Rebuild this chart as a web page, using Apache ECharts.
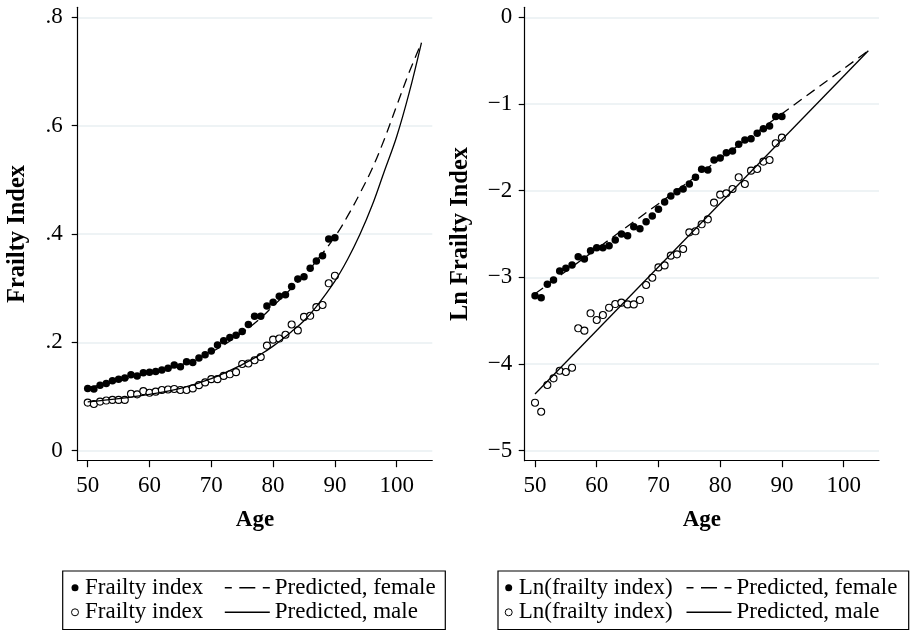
<!DOCTYPE html>
<html><head><meta charset="utf-8">
<script src="https://cdn.jsdelivr.net/npm/echarts@6/dist/echarts.min.js"></script>
<style>html,body{margin:0;padding:0;background:#fff}#c{width:913px;height:631px}</style>
</head><body><div id="c"></div>
<script>
// ---- data ----
const ages = [50,51,52,53,54,55,56,57,58,59,60,61,62,63,64,65,66,67,68,69,70,71,72,73,74,75,76,77,78,79,80,81,82,83,84,85,86,87,88,89,90];
const fiFemale = [0.115,0.114,0.121,0.124,0.129,0.132,0.134,0.140,0.138,0.144,0.145,0.146,0.149,0.152,0.158,0.155,0.164,0.163,0.171,0.177,0.184,0.195,0.203,0.209,0.213,0.220,0.233,0.248,0.248,0.267,0.274,0.285,0.288,0.303,0.317,0.321,0.337,0.350,0.360,0.391,0.393];
const fiMale = [0.0888,0.0863,0.0906,0.0925,0.0937,0.0937,0.0937,0.105,0.104,0.110,0.107,0.109,0.112,0.113,0.114,0.112,0.112,0.115,0.121,0.126,0.132,0.132,0.138,0.141,0.145,0.160,0.161,0.167,0.173,0.194,0.205,0.207,0.214,0.233,0.222,0.247,0.249,0.265,0.269,0.309,0.323];
const lnFemale = [-3.212,-3.235,-3.081,-3.031,-2.927,-2.896,-2.858,-2.762,-2.788,-2.692,-2.658,-2.658,-2.635,-2.569,-2.500,-2.519,-2.415,-2.438,-2.358,-2.292,-2.215,-2.131,-2.062,-2.012,-1.981,-1.923,-1.846,-1.754,-1.762,-1.646,-1.623,-1.562,-1.542,-1.465,-1.415,-1.400,-1.338,-1.285,-1.254,-1.146,-1.146];
const lnMale = [-4.446,-4.550,-4.242,-4.165,-4.077,-4.092,-4.042,-3.588,-3.615,-3.415,-3.492,-3.435,-3.350,-3.308,-3.292,-3.312,-3.312,-3.262,-3.088,-3.004,-2.885,-2.862,-2.750,-2.735,-2.673,-2.481,-2.469,-2.388,-2.331,-2.138,-2.046,-2.031,-1.981,-1.846,-1.923,-1.769,-1.750,-1.665,-1.646,-1.454,-1.388];

const predAgesFemaleLeft = [50,55,60,65,70,75,78,80,83,85,87,90,92,94,96,98,100,102,104];
const predFemaleLeft = [0.116,0.129,0.143,0.158,0.182,0.218,0.245,0.267,0.300,0.323,0.350,0.395,0.432,0.474,0.520,0.575,0.637,0.698,0.753];
const predAgesMaleLeft = [50,55,60,65,70,75,78,80,83,85,87,90,92,94,96,98,100,102,104];
const predMaleLeft = [0.090,0.096,0.104,0.115,0.133,0.159,0.178,0.193,0.220,0.240,0.266,0.313,0.352,0.398,0.452,0.516,0.580,0.660,0.753];

const predAgesRight = [50,104];
const predFemaleRight = [-3.19,-0.386];
const predMaleRight = [-4.346,-0.386];

const xTicks = [50,60,70,80,90,100];
const xTickLabels = ['50','60','70','80','90','100'];
const yTicksLeft = [0,0.2,0.4,0.6,0.8];
const yTickLabelsLeft = ['0','.2','.4','.6','.8'];
const yTicksRight = [-5,-4,-3,-2,-1,0];
const yTickLabelsRight = ['\u22125','\u22124','\u22123','\u22122','\u22121','0'];

const legendText = {
  fiF: 'Frailty index', fiM: 'Frailty index',
  pfL: 'Predicted, female', pmL: 'Predicted, male',
  lnF: 'Ln(frailty index)', lnM: 'Ln(frailty index)',
  pfR: 'Predicted, female', pmR: 'Predicted, male'
};

// ---- chart ----
const FONT = "'Liberation Serif','Times New Roman',serif";
const pair = (xs, ys) => xs.map((x, i) => [x, ys[i]]);
const lookup = (ticks, labels) => v => {
  const i = ticks.findIndex(t => Math.abs(t - v) < 1e-9);
  return i >= 0 ? labels[i] : '';
};
const gridColor = '#e8eff2';

function xAxisDef(gi, min, max) {
  return {
    gridIndex: gi, type: 'value', min: min, max: max,
    name: 'Age', nameLocation: 'middle', nameGap: 48,
    nameTextStyle: { fontFamily: FONT, fontWeight: 'bold', fontSize: 23, color: '#000' },
    axisLine: { show: true, onZero: false, lineStyle: { color: '#000', width: 1.2 } },
    axisTick: { show: true, length: 6.5, customValues: xTicks, lineStyle: { color: '#000', width: 1.2 } },
    axisLabel: { customValues: xTicks, margin: 14, fontFamily: FONT, fontSize: 23, color: '#000',
                 formatter: lookup(xTicks, xTickLabels) },
    splitLine: { show: false }
  };
}
function yAxisDef(gi, min, max, ticks, labels, name, gap, margin) {
  return {
    gridIndex: gi, type: 'value', min: min, max: max,
    name: name, nameLocation: 'middle', nameGap: gap, nameRotate: 90,
    nameTextStyle: { fontFamily: FONT, fontWeight: 'bold', fontSize: 24.5, color: '#000' },
    axisLine: { show: true, onZero: false, lineStyle: { color: '#000', width: 1.2 } },
    axisTick: { show: true, length: 6, customValues: ticks, lineStyle: { color: '#000', width: 1.2 } },
    axisLabel: { customValues: ticks, margin: margin, fontFamily: FONT, fontSize: 23, color: '#000',
                 formatter: lookup(ticks, labels) },
    splitLine: { show: true, lineStyle: { color: gridColor, width: 1.5 } }
  };
}
const legendTextStyle = { fontFamily: FONT, fontSize: 23, color: '#000', lineHeight: 24 };
const clearItem = { color: 'rgba(0,0,0,0)', borderColor: 'rgba(0,0,0,0)', borderWidth: 0, opacity: 0 };
function markerLegend(left, names) {
  return {
    orient: 'vertical', left: left, top: 575.7, padding: 0, itemGap: 0.6,
    itemWidth: 10, itemHeight: 7, selectedMode: false,
    textStyle: legendTextStyle, formatter: n => legendText[n],
    data: [
      { name: names[0], icon: 'circle', itemStyle: { color: '#000', borderWidth: 0, opacity: 1 } },
      { name: names[1], icon: 'circle', itemStyle: { color: '#fff', borderColor: '#000', borderWidth: 1, opacity: 1 } }
    ]
  };
}
function lineLegend(left, names) {
  return {
    orient: 'vertical', left: left, top: 575.7, padding: 0, itemGap: 0.6,
    itemWidth: 45, itemHeight: 7, selectedMode: false,
    textStyle: legendTextStyle, formatter: n => legendText[n],
    data: [
      { name: names[0], itemStyle: clearItem,
        lineStyle: { width: 1.6, color: '#000', type: [7, 7.5, 16, 7.5, 7, 60] } },
      { name: names[1], itemStyle: clearItem,
        lineStyle: { width: 1.6, color: '#000', type: 'solid' } }
    ]
  };
}
function scatter(name, gi, data, hollow) {
  return {
    name: name, type: 'scatter', xAxisIndex: gi, yAxisIndex: gi, data: data,
    symbol: 'circle', symbolSize: hollow ? 7 : 7.5, z: 3,
    itemStyle: hollow ? { color: '#fff', borderColor: '#000', borderWidth: 1.1, opacity: 1 }
                      : { color: '#000', opacity: 1 }
  };
}
function line(name, gi, data, dashed) {
  return {
    name: name, type: 'line', xAxisIndex: gi, yAxisIndex: gi, data: data,
    symbol: 'none', smooth: 0.4, z: 4,
    itemStyle: { color: '#000' },
    lineStyle: { color: '#000', width: 1.3, type: dashed ? [10, 6] : 'solid' }
  };
}

const chart = echarts.init(document.getElementById('c'), null, { renderer: 'canvas' });
chart.setOption({
  animation: false,
  backgroundColor: '#fff',
  grid: [
    { left: 77.7, right: 480.7, top: 7.3, bottom: 170.3, outerBoundsMode: 'none' },
    { left: 524.7, right: 34, top: 7.3, bottom: 170.3, outerBoundsMode: 'none' }
  ],
  xAxis: [xAxisDef(0, 48.38, 105.76), xAxisDef(1, 48.33, 105.73)],
  yAxis: [
    yAxisDef(0, -0.0185, 0.8185, yTicksLeft, yTickLabelsLeft, 'Frailty Index', 48, 15),
    yAxisDef(1, -5.115, 0.115, yTicksRight, yTickLabelsRight, 'Ln Frailty Index', 52, 12.5)
  ],
  legend: [
    markerLegend(71, ['fiF', 'fiM']),
    lineLegend(224, ['pfL', 'pmL']),
    markerLegend(504.7, ['lnF', 'lnM']),
    lineLegend(685.7, ['pfR', 'pmR'])
  ],
  graphic: [
    { type: 'rect', shape: { x: 62.7, y: 571, width: 382.6, height: 58.5 },
      style: { fill: 'none', stroke: '#000', lineWidth: 1.2 } },
    { type: 'rect', shape: { x: 498, y: 571, width: 410.7, height: 58.5 },
      style: { fill: 'none', stroke: '#000', lineWidth: 1.2 } }
  ],
  series: [
    scatter('fiF', 0, pair(ages, fiFemale), false),
    scatter('fiM', 0, pair(ages, fiMale), true),
    line('pfL', 0, pair(predAgesFemaleLeft, predFemaleLeft), true),
    line('pmL', 0, pair(predAgesMaleLeft, predMaleLeft), false),
    scatter('lnF', 1, pair(ages, lnFemale), false),
    scatter('lnM', 1, pair(ages, lnMale), true),
    line('pfR', 1, pair(predAgesRight, predFemaleRight), true),
    line('pmR', 1, pair(predAgesRight, predMaleRight), false)
  ]
});
</script>
</body></html>
